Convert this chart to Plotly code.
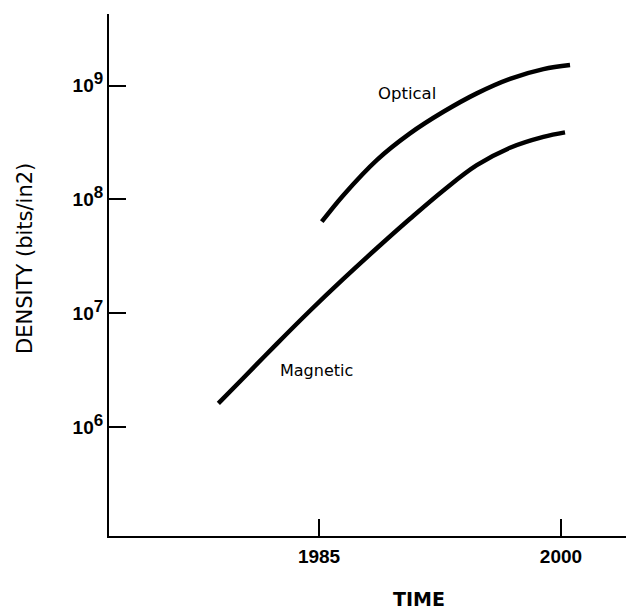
import plotly.graph_objects as go

# Data
magnetic_years = [1978.76, 1980.31, 1982.38, 1984.44, 1986.51, 1988.58, 1990.64,
                  1992.71, 1994.78, 1996.84, 1998.91, 2000.25]
magnetic_density = [1.61e6, 2.69e6, 5.37e6, 1.05e7, 2.0e7, 3.72e7, 6.76e7,
                    1.20e8, 2.00e8, 2.85e8, 3.55e8, 3.89e8]

optical_years = [1985.17, 1986.51, 1988.58, 1990.64, 1992.71, 1994.78, 1996.84, 1998.91, 2000.56]
optical_density = [6.37e7, 1.09e8, 2.22e8, 3.81e8, 5.90e8, 8.57e8, 1.15e9, 1.40e9, 1.52e9]

x_tick_vals = [1985, 2000]
x_tick_text = ["1985", "2000"]
y_tick_vals = [1e6, 1e7, 1e8, 1e9]
y_exponents = ["6", "7", "8", "9"]
y_tick_text = ['10<sup><span style="font-size:17px">%s</span></sup>' % e for e in y_exponents]

FONT = "Liberation Sans"
WIDE = "DejaVu Sans"

W, H = 626, 609
L, R, T, B = 109, 0, 14, 73
PW, PH = W - L - R, H - T - B

fig = go.Figure()
fig.add_trace(go.Scatter(x=magnetic_years, y=magnetic_density, mode="lines",
                         line=dict(color="black", width=4.5, shape="spline", smoothing=1.0),
                         name="Magnetic", showlegend=False, hoverinfo="skip"))
fig.add_trace(go.Scatter(x=optical_years, y=optical_density, mode="lines",
                         line=dict(color="black", width=4.5, shape="spline", smoothing=1.0),
                         name="Optical", showlegend=False, hoverinfo="skip"))

fig.update_layout(
    width=W, height=H,
    margin=dict(l=L, r=R, t=T, b=B),
    paper_bgcolor="white", plot_bgcolor="white",
    font=dict(family=FONT, color="black"),
    xaxis=dict(range=[1971.98, 2004.03], showgrid=False, zeroline=False,
               showline=True, linecolor="black", linewidth=2,
               ticks="inside", ticklen=17, tickwidth=2, tickcolor="black",
               tickvals=x_tick_vals, ticktext=x_tick_text,
               tickfont=dict(family=FONT, size=19, weight="bold"), ticklabelstandoff=2),
    yaxis=dict(type="log", range=[5.040, 9.631], showgrid=False, zeroline=False,
               showline=True, linecolor="black", linewidth=2,
               ticks="inside", ticklen=17, tickwidth=2, tickcolor="black",
               tickvals=y_tick_vals, ticktext=y_tick_text,
               tickfont=dict(family=FONT, size=19, weight="bold"), ticklabelstandoff=0),
)

fig.add_annotation(text="Optical", x=1990.44, y=8.933, xref="x", yref="y",
                   showarrow=False, font=dict(family=WIDE, size=16.5))
fig.add_annotation(text="Magnetic", x=1984.86, y=6.50, xref="x", yref="y",
                   showarrow=False, font=dict(family=WIDE, size=16))

# Axis titles placed as pixel-anchored annotations
fig.add_annotation(text="<b>TIME</b>", xref="paper", yref="paper",
                   x=(419 - L) / PW, y=-(599 - (H - B)) / PH,
                   showarrow=False, font=dict(family=WIDE, size=19),
                   xanchor="center", yanchor="middle")
fig.add_annotation(text="DENSITY (bits/in2)", xref="paper", yref="paper",
                   x=-(L - 25) / PW, y=((H - B) - 259) / PH, textangle=-90,
                   showarrow=False, font=dict(family=WIDE, size=21),
                   xanchor="center", yanchor="middle")

fig.write_html("out.html", config={"displayModeBar": False},
               post_script="document.body.style.margin='0';document.body.style.overflow='hidden';")
